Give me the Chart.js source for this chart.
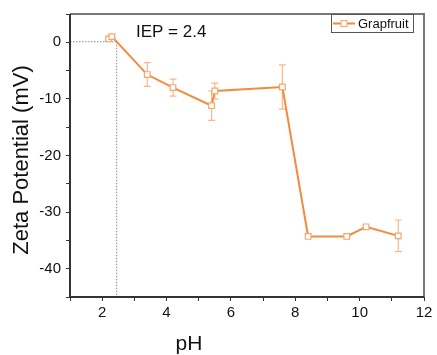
<!DOCTYPE html>
<html>
<head>
<meta charset="utf-8">
<script src="https://cdn.jsdelivr.net/npm/chart.js@4/dist/chart.umd.min.js"></script>
<style>
  html, body { margin: 0; padding: 0; background: #fff; }
  #wrap { width: 437px; height: 355px; position: relative; }
</style>
</head>
<body>
<div id="wrap"><canvas id="chart"></canvas></div>
<script>
// data
const phValues = [2.2, 2.3, 3.4, 4.2, 5.4, 5.5, 7.6, 8.4, 9.6, 10.2, 11.2];
const zetaValues = [0.6, 1.0, -5.7, -8.0, -11.2, -8.6, -7.9, -34.3, -34.3, -32.6, -34.2];
const zetaErrors = [0.3, 0.3, 2.1, 1.5, 2.6, 1.4, 3.9, 0, 0, 0, 2.8];
const xTicks = [2, 4, 6, 8, 10, 12];
const yTicks = [0, -10, -20, -30, -40];
const seriesName = "Grapfruit";
const iepX = 2.45;
const iepLabel = "IEP = 2.4";
const xTitle = "pH";
const yTitle = "Zeta Potential (mV)";

const lineColor = "#f58a3c";
const markerColor = "#f7a56b";
const errColor = "#f8b88c";
const font = "'Liberation Sans', Arial, sans-serif";

// error bars + IEP guide lines, drawn through the chart scales
const extras = {
  id: "extras",
  beforeDatasetsDraw(chart) {
    const { ctx, scales: { x, y }, chartArea: a } = chart;
    ctx.save();
    // dotted IEP guides
    ctx.strokeStyle = "#8a8a8a";
    ctx.lineWidth = 1;
    ctx.setLineDash([1.5, 1.5]);
    ctx.beginPath();
    ctx.moveTo(a.left, y.getPixelForValue(0.1));
    ctx.lineTo(x.getPixelForValue(iepX), y.getPixelForValue(0.1));
    ctx.moveTo(x.getPixelForValue(iepX), y.getPixelForValue(0.1));
    ctx.lineTo(x.getPixelForValue(iepX), a.bottom);
    ctx.stroke();
    ctx.setLineDash([]);
    // error bars
    ctx.strokeStyle = errColor;
    ctx.lineWidth = 1.2;
    phValues.forEach((ph, i) => {
      const e = zetaErrors[i];
      if (!e) return;
      const px = x.getPixelForValue(ph);
      const top = y.getPixelForValue(zetaValues[i] + e);
      const bot = y.getPixelForValue(zetaValues[i] - e);
      ctx.beginPath();
      ctx.moveTo(px, top); ctx.lineTo(px, bot);
      ctx.moveTo(px - 3.5, top); ctx.lineTo(px + 3.5, top);
      ctx.moveTo(px - 3.5, bot); ctx.lineTo(px + 3.5, bot);
      ctx.stroke();
    });
    ctx.restore();
  },
  afterDraw(chart) {
    const { ctx, chartArea: a } = chart;
    ctx.save();
    // frame
    ctx.lineWidth = 2;
    ctx.strokeStyle = "#777";
    ctx.beginPath();
    ctx.moveTo(a.left, a.top); ctx.lineTo(a.right, a.top); ctx.lineTo(a.right, a.bottom);
    ctx.stroke();
    ctx.strokeStyle = "#333";
    ctx.beginPath();
    ctx.moveTo(a.left, a.top); ctx.lineTo(a.left, a.bottom); ctx.lineTo(a.right, a.bottom);
    ctx.stroke();
    // IEP label
    ctx.fillStyle = "#111";
    ctx.font = "17px " + font;
    ctx.textBaseline = "middle";
    ctx.fillText(iepLabel, 136, 32);
    // axis titles (both sit a bit off-centre in the original)
    ctx.font = "21px " + font;
    ctx.textAlign = "center";
    ctx.fillText(xTitle, 189, 344);
    ctx.save();
    ctx.translate(22, 160);
    ctx.rotate(-Math.PI / 2);
    ctx.font = "22px " + font;
    ctx.fillText(yTitle, 0, 0);
    ctx.restore();
    ctx.textAlign = "left";
    // legend
    const lx = 331, ly = 14, lw = 82, lh = 18;
    ctx.strokeStyle = "#555";
    ctx.lineWidth = 1;
    ctx.strokeRect(lx + 0.5, ly + 0.5, lw, lh);
    const cy = ly + lh / 2 + 0.5;
    ctx.strokeStyle = lineColor;
    ctx.lineWidth = 2;
    ctx.beginPath(); ctx.moveTo(lx + 2, cy); ctx.lineTo(lx + 24, cy); ctx.stroke();
    ctx.fillStyle = "#fff";
    ctx.fillRect(lx + 10, cy - 3, 6, 6);
    ctx.strokeStyle = markerColor;
    ctx.lineWidth = 1;
    ctx.strokeRect(lx + 10, cy - 3, 6, 6);
    ctx.fillStyle = "#111";
    ctx.font = "13px " + font;
    ctx.fillText(seriesName, lx + 27, cy + 1);
    ctx.restore();
  }
};

new Chart(document.getElementById("chart"), {
  type: "line",
  data: {
    datasets: [{
      label: seriesName,
      data: phValues.map((ph, i) => ({ x: ph, y: zetaValues[i] })),
      borderColor: lineColor,
      borderWidth: 2,
      pointStyle: "rect",
      pointRadius: 4,
      pointBorderWidth: 1.2,
      pointBackgroundColor: "#fff",
      pointBorderColor: markerColor,
      tension: 0
    }]
  },
  options: {
    responsive: true,
    maintainAspectRatio: false,
    animation: false,
    layout: { padding: { top: 11, right: 13, left: 0, bottom: 0 } },
    plugins: { legend: { display: false }, tooltip: { enabled: false } },
    scales: {
      x: {
        type: "linear",
        min: 1, max: 12,
        afterFit(s) { s.height = 58; },
        afterBuildTicks(s) { s.ticks = []; for (let v = 1; v <= 12; v++) s.ticks.push({ value: v }); },
        grid: { drawOnChartArea: false, drawTicks: true, tickLength: 4, color: "#333", tickColor: "#333" },
        border: { display: false },
        ticks: {
          padding: 3,
          color: "#111",
          font: { family: font, size: 15 },
          callback: v => xTicks.includes(v) ? String(v) : ""
        },
        title: { display: false }
      },
      y: {
        type: "linear",
        min: -45, max: 5,
        afterFit(s) { s.width = 70; },
        afterBuildTicks(s) { s.ticks = []; for (let v = -45; v <= 5; v += 5) s.ticks.push({ value: v }); },
        grid: { drawOnChartArea: false, drawTicks: true, tickLength: 4, color: "#333", tickColor: "#333" },
        border: { display: false },
        ticks: {
          padding: 5,
          color: "#111",
          font: { family: font, size: 15 },
          callback: v => yTicks.includes(v) ? String(v) : ""
        },
        title: { display: false }
      }
    }
  },
  plugins: [extras]
});
</script>
</body>
</html>
